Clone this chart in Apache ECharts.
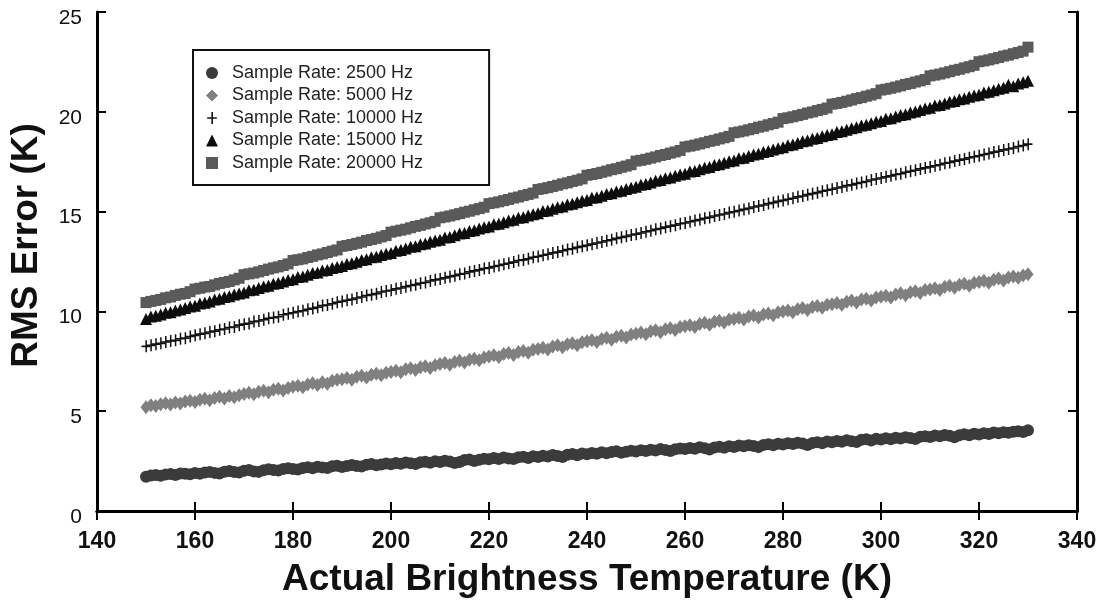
<!DOCTYPE html>
<html lang="en">
<head>
<meta charset="UTF-8">
<title>RMS Error vs Brightness Temperature</title>
<script src="https://cdn.jsdelivr.net/npm/echarts@6/dist/echarts.min.js"></script>
<style>
  html, body { margin: 0; padding: 0; background: #fff; }
  #main { width: 1102px; height: 603px; }
</style>
</head>
<body>
<div id="main"></div>
<script>
// actual brightness temperature (K), one sample per kelvin
var temps = [
  150,151,152,153,154,155,156,157,158,159,
  160,161,162,163,164,165,166,167,168,169,
  170,171,172,173,174,175,176,177,178,179,
  180,181,182,183,184,185,186,187,188,189,
  190,191,192,193,194,195,196,197,198,199,
  200,201,202,203,204,205,206,207,208,209,
  210,211,212,213,214,215,216,217,218,219,
  220,221,222,223,224,225,226,227,228,229,
  230,231,232,233,234,235,236,237,238,239,
  240,241,242,243,244,245,246,247,248,249,
  250,251,252,253,254,255,256,257,258,259,
  260,261,262,263,264,265,266,267,268,269,
  270,271,272,273,274,275,276,277,278,279,
  280,281,282,283,284,285,286,287,288,289,
  290,291,292,293,294,295,296,297,298,299,
  300,301,302,303,304,305,306,307,308,309,
  310,311,312,313,314,315,316,317,318,319,
  320,321,322,323,324,325,326,327,328,329,
  330
];

// RMS error (K) per sample rate
var rate2500 = [
  1.72,1.78,1.80,1.76,1.83,1.85,1.80,1.88,1.86,1.84,
  1.90,1.87,1.93,1.96,1.91,1.88,1.97,2.00,1.95,1.93,
  2.02,2.05,1.98,1.96,2.04,2.09,2.06,2.03,2.11,2.14,
  2.10,2.08,2.16,2.19,2.14,2.22,2.18,2.15,2.24,2.27,
  2.21,2.25,2.30,2.26,2.23,2.32,2.35,2.29,2.33,2.38,
  2.34,2.40,2.37,2.43,2.39,2.35,2.44,2.47,2.42,2.49,
  2.45,2.52,2.48,2.40,2.46,2.55,2.58,2.51,2.57,2.62,
  2.59,2.65,2.61,2.68,2.63,2.60,2.69,2.72,2.66,2.74,
  2.70,2.77,2.73,2.80,2.76,2.71,2.82,2.85,2.79,2.88,
  2.84,2.91,2.87,2.94,2.89,2.96,2.99,2.92,2.97,3.02,
  2.98,3.04,3.00,3.07,3.03,3.10,3.06,3.01,3.09,3.13,
  3.11,3.16,3.12,3.19,3.15,3.08,3.18,3.22,3.17,3.25,
  3.21,3.28,3.24,3.30,3.26,3.20,3.31,3.34,3.29,3.37,
  3.33,3.40,3.36,3.42,3.38,3.31,3.41,3.45,3.39,3.48,
  3.44,3.51,3.47,3.55,3.50,3.46,3.57,3.60,3.53,3.62,
  3.58,3.64,3.60,3.67,3.63,3.70,3.66,3.61,3.72,3.75,
  3.71,3.78,3.74,3.81,3.77,3.70,3.80,3.84,3.79,3.87,
  3.83,3.90,3.86,3.93,3.89,3.95,3.92,3.97,4.00,3.96,
  4.04
];
var rate5000 = [
  5.20,5.30,5.26,5.35,5.40,5.33,5.44,5.38,5.49,5.52,
  5.46,5.57,5.63,5.55,5.66,5.72,5.64,5.76,5.70,5.80,
  5.86,5.92,5.85,5.97,6.03,5.95,6.08,6.12,6.04,6.16,
  6.22,6.28,6.20,6.34,6.40,6.31,6.45,6.38,6.52,6.57,
  6.60,6.66,6.58,6.72,6.77,6.69,6.82,6.88,6.80,6.93,
  6.97,7.03,6.95,7.10,7.15,7.06,7.20,7.25,7.16,7.30,
  7.36,7.42,7.33,7.47,7.53,7.44,7.58,7.63,7.55,7.69,
  7.74,7.80,7.71,7.86,7.92,7.82,7.96,8.02,7.93,8.08,
  8.12,8.18,8.09,8.24,8.30,8.20,8.35,8.40,8.31,8.46,
  8.50,8.56,8.47,8.62,8.68,8.58,8.73,8.78,8.69,8.84,
  8.88,8.94,8.85,9.00,9.06,8.96,9.11,9.16,9.07,9.22,
  9.25,9.31,9.22,9.37,9.43,9.33,9.48,9.53,9.44,9.59,
  9.62,9.68,9.59,9.74,9.80,9.70,9.85,9.90,9.81,9.96,
  9.99,10.05,9.96,10.11,10.17,10.07,10.22,10.27,10.18,10.33,
  10.36,10.42,10.33,10.48,10.54,10.44,10.59,10.64,10.55,10.70,
  10.73,10.79,10.70,10.85,10.91,10.81,10.96,11.01,10.92,11.07,
  11.10,11.16,11.07,11.22,11.28,11.18,11.33,11.38,11.29,11.44,
  11.47,11.53,11.44,11.59,11.65,11.55,11.70,11.75,11.68,11.80,
  11.86
];
var rate10000 = [
  8.25,8.30,8.36,8.40,8.47,8.52,8.55,8.63,8.66,8.74,
  8.80,8.86,8.90,8.97,9.01,9.08,9.12,9.19,9.22,9.31,
  9.36,9.40,9.49,9.52,9.58,9.66,9.69,9.73,9.83,9.88,
  9.93,9.99,10.03,10.11,10.15,10.21,10.29,10.32,10.38,10.46,
  10.50,10.56,10.60,10.67,10.72,10.80,10.84,10.89,10.97,11.02,
  11.06,11.13,11.17,11.24,11.30,11.34,11.41,11.45,11.52,11.58,
  11.62,11.68,11.74,11.79,11.86,11.90,11.98,12.03,12.08,12.15,
  12.18,12.25,12.30,12.36,12.41,12.47,12.55,12.58,12.64,12.71,
  12.75,12.81,12.86,12.93,12.97,13.04,13.10,13.14,13.21,13.26,
  13.31,13.37,13.43,13.48,13.54,13.59,13.66,13.71,13.76,13.83,
  13.87,13.93,13.99,14.04,14.11,14.15,14.22,14.27,14.32,14.39,
  14.43,14.49,14.55,14.60,14.67,14.71,14.78,14.83,14.88,14.95,
  14.99,15.05,15.11,15.16,15.23,15.28,15.33,15.40,15.45,15.51,
  15.56,15.62,15.67,15.74,15.78,15.85,15.90,15.95,16.02,16.07,
  16.12,16.18,16.23,16.30,16.34,16.41,16.46,16.51,16.58,16.63,
  16.68,16.74,16.79,16.86,16.90,16.97,17.02,17.07,17.14,17.19,
  17.24,17.30,17.35,17.42,17.46,17.53,17.58,17.63,17.70,17.75,
  17.80,17.86,17.91,17.98,18.02,18.09,18.14,18.19,18.26,18.31,
  18.38
];
var rate15000 = [
  9.62,9.74,9.78,9.85,9.93,9.96,10.05,10.09,10.17,10.24,
  10.28,10.39,10.43,10.50,10.60,10.63,10.72,10.76,10.85,10.90,
  10.95,11.06,11.08,11.17,11.25,11.29,11.39,11.42,11.50,11.57,
  11.61,11.72,11.75,11.83,11.92,11.95,12.05,12.08,12.17,12.23,
  12.27,12.38,12.41,12.49,12.58,12.61,12.71,12.74,12.83,12.89,
  12.93,13.04,13.07,13.15,13.24,13.27,13.37,13.40,13.49,13.55,
  13.59,13.70,13.73,13.81,13.90,13.93,14.03,14.06,14.15,14.21,
  14.25,14.36,14.39,14.47,14.56,14.59,14.69,14.72,14.81,14.87,
  14.92,15.03,15.05,15.14,15.22,15.26,15.35,15.39,15.47,15.54,
  15.58,15.69,15.72,15.80,15.88,15.92,16.01,16.05,16.13,16.20,
  16.24,16.35,16.38,16.46,16.54,16.58,16.67,16.71,16.79,16.86,
  16.90,17.01,17.04,17.12,17.20,17.24,17.33,17.37,17.45,17.52,
  17.56,17.67,17.70,17.78,17.86,17.90,17.99,18.03,18.11,18.18,
  18.22,18.33,18.36,18.44,18.52,18.56,18.65,18.69,18.77,18.84,
  18.88,18.99,19.02,19.10,19.18,19.22,19.31,19.35,19.43,19.50,
  19.54,19.65,19.68,19.76,19.84,19.88,19.97,20.01,20.09,20.16,
  20.20,20.31,20.34,20.42,20.50,20.54,20.63,20.67,20.75,20.82,
  20.86,20.97,21.00,21.08,21.16,21.20,21.35,21.28,21.42,21.48,
  21.56
];
var rate20000 = [
  10.44,10.50,10.55,10.60,10.68,10.72,10.80,10.86,10.90,10.99,
  11.12,11.16,11.22,11.25,11.33,11.40,11.45,11.50,11.58,11.66,
  11.84,11.88,11.92,11.98,12.05,12.12,12.18,12.23,12.30,12.38,
  12.55,12.59,12.63,12.70,12.76,12.83,12.88,12.95,13.02,13.08,
  13.26,13.30,13.35,13.41,13.47,13.55,13.60,13.66,13.73,13.80,
  13.97,14.02,14.07,14.12,14.19,14.26,14.31,14.38,14.44,14.51,
  14.69,14.73,14.78,14.84,14.90,14.97,15.02,15.09,15.15,15.22,
  15.40,15.44,15.49,15.55,15.61,15.68,15.73,15.80,15.86,15.93,
  16.11,16.15,16.20,16.26,16.32,16.39,16.44,16.51,16.57,16.64,
  16.82,16.86,16.91,16.97,17.03,17.10,17.15,17.22,17.28,17.35,
  17.53,17.57,17.62,17.68,17.74,17.81,17.86,17.93,17.99,18.06,
  18.24,18.28,18.33,18.39,18.45,18.52,18.57,18.64,18.70,18.77,
  18.95,18.99,19.04,19.10,19.16,19.23,19.28,19.35,19.41,19.48,
  19.66,19.70,19.75,19.81,19.87,19.94,19.99,20.06,20.12,20.19,
  20.38,20.42,20.47,20.53,20.59,20.66,20.71,20.78,20.84,20.91,
  21.09,21.13,21.18,21.24,21.30,21.37,21.42,21.49,21.55,21.62,
  21.80,21.84,21.89,21.95,22.01,22.08,22.13,22.20,22.26,22.33,
  22.51,22.55,22.60,22.66,22.72,22.79,22.84,22.91,22.97,23.04,
  23.24
];

var xTicks = [140, 340, 20];
var yTicks = [0, 25, 5];

function pairs(ys) {
  var out = [];
  for (var i = 0; i < temps.length; i++) {
    out.push([temps[i], ys[i]]);
  }
  return out;
}

var plusPath = 'path://M4.2,0h1.6v12h-1.6z M0,5.2h9.6v1.6h-9.6z';
var font = 'Arial, "Liberation Sans", Helvetica, sans-serif';

var myChart = echarts.init(document.getElementById('main'));

var frameAxis = {
  axisLine: { show: true, lineStyle: { color: '#000', width: 3 } },
  axisTick: { show: true, inside: true, length: 9, lineStyle: { color: '#000', width: 2 } },
  splitLine: { show: false }
};

var option = {
  backgroundColor: '#fff',
  animation: false,
  grid: { left: 95, right: 25, top: 12, bottom: 89 },
  legend: {
    orient: 'vertical',
    left: 193,
    top: 50,
    borderColor: '#111',
    borderWidth: 2,
    padding: [14, 66, 13, 13],
    itemWidth: 12,
    itemHeight: 12,
    itemGap: 4.5,
    textStyle: { fontFamily: font, fontSize: 18, color: '#222', padding: [0, 0, 0, 9] },
    data: ['Sample Rate: 2500 Hz', 'Sample Rate: 5000 Hz', 'Sample Rate: 10000 Hz',
           'Sample Rate: 15000 Hz', 'Sample Rate: 20000 Hz']
  },
  xAxis: [
    Object.assign({
      type: 'value', position: 'bottom',
      min: xTicks[0], max: xTicks[1], interval: xTicks[2],
      name: 'Actual Brightness Temperature (K)',
      nameLocation: 'middle', nameGap: 50,
      nameTextStyle: { fontFamily: font, fontSize: 37, fontWeight: 'bold', color: '#111' },
      axisLabel: { margin: 19, fontFamily: font, fontSize: 23, fontWeight: 'bold', color: '#111' }
    }, frameAxis),
    Object.assign({
      type: 'value', position: 'top',
      min: xTicks[0], max: xTicks[1], interval: xTicks[2],
      axisLabel: { show: false }
    }, frameAxis)
  ],
  yAxis: [
    Object.assign({
      type: 'value', position: 'left',
      min: yTicks[0], max: yTicks[1], interval: yTicks[2],
      name: 'RMS Error (K)',
      nameLocation: 'middle', nameGap: 52,
      nameTextStyle: { fontFamily: font, fontSize: 37, fontWeight: 'bold', color: '#111', padding: [0, 0, 0, 32] },
      axisLabel: { margin: 15, fontFamily: font, fontSize: 21, color: '#111', verticalAlign: 'top', lineHeight: 12 }
    }, frameAxis),
    Object.assign({
      type: 'value', position: 'right',
      min: yTicks[0], max: yTicks[1], interval: yTicks[2],
      axisLabel: { show: false }
    }, frameAxis)
  ],
  series: [
    {
      name: 'Sample Rate: 2500 Hz', type: 'scatter',
      symbol: 'circle', symbolSize: 12,
      itemStyle: { color: '#3b3b3b', opacity: 1 },
      data: pairs(rate2500)
    },
    {
      name: 'Sample Rate: 5000 Hz', type: 'scatter',
      symbol: 'diamond', symbolSize: [11, 14],
      itemStyle: { color: '#808080', opacity: 1 },
      data: pairs(rate5000)
    },
    {
      name: 'Sample Rate: 10000 Hz', type: 'scatter',
      symbol: plusPath, symbolSize: [9, 12],
      itemStyle: { color: '#111', opacity: 1 },
      data: pairs(rate10000)
    },
    {
      name: 'Sample Rate: 15000 Hz', type: 'scatter',
      symbol: 'triangle', symbolSize: 12,
      itemStyle: { color: '#0d0d0d', opacity: 1 },
      data: pairs(rate15000)
    },
    {
      name: 'Sample Rate: 20000 Hz', type: 'scatter',
      symbol: 'rect', symbolSize: 11,
      itemStyle: { color: '#5a5a5a', opacity: 1 },
      data: pairs(rate20000)
    }
  ]
};

myChart.setOption(option);
</script>
</body>
</html>
